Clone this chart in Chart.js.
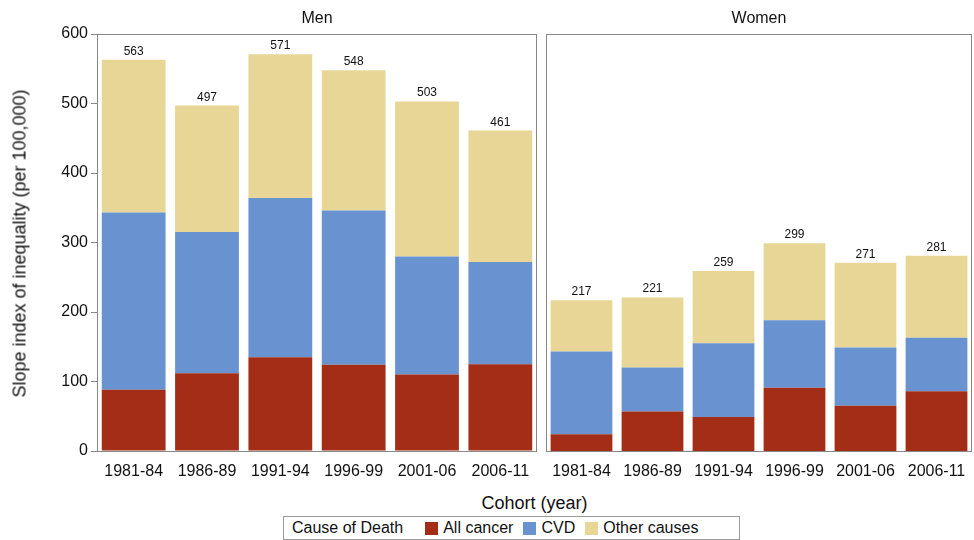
<!DOCTYPE html>
<html><head><meta charset="utf-8">
<script src="https://cdn.jsdelivr.net/npm/chart.js@4"></script>
<style>
body{margin:0;width:974px;height:540px;background:#fff;font-family:"Liberation Sans",Arial,sans-serif;position:relative;overflow:hidden;color:#111}
canvas{position:absolute;top:0}
.t{position:absolute;font-size:16px;text-align:center}
#legend{position:absolute;left:283px;top:516px;width:457px;height:24px;border:1px solid #999;box-sizing:border-box;font-size:16px;display:flex;align-items:center;padding-left:8px;white-space:nowrap}
.sw{display:inline-block;width:13px;height:13px;margin:0 5px 0 10px}
</style></head><body>
<canvas id="men" width="540" height="480" style="left:0;width:540px;height:480px"></canvas>
<canvas id="women" width="434" height="480" style="left:540px;width:434px;height:480px"></canvas>
<div class="t" style="left:97px;width:440px;top:9px">Men</div>
<div class="t" style="left:546px;width:426px;top:9px">Women</div>
<div class="t" style="left:97px;width:875px;top:493px;font-size:18px">Cohort (year)</div>
<div class="t" style="left:-150px;top:233px;width:340px;font-size:18px;transform:rotate(-90deg)">Slope index of inequality (per 100,000)</div>
<div id="legend">Cause of Death <span class="sw" style="background:#a32d17;margin-left:22px"></span>All cancer<span class="sw" style="background:#6993d0"></span>CVD<span class="sw" style="background:#e8d697"></span>Other causes</div>
<script>
var cohorts = ["1981-84","1986-89","1991-94","1996-99","2001-06","2006-11"];
var menCancer = [88,112,135,124,110,125];
var menCvd = [255,203,229,222,170,147];
var menOther = [220,182,207,202,223,189];
var menTotal = [563,497,571,548,503,461];
var womenCancer = [24,57,49,91,65,86];
var womenCvd = [119,63,106,97,84,77];
var womenOther = [74,101,104,111,122,118];
var womenTotal = [217,221,259,299,271,281];

var boxPlugin = {
    id: 'box',
    afterDraw: function (chart) {
        var a = chart.chartArea, c = chart.ctx;
        c.save();
        c.strokeStyle = '#888'; c.lineWidth = 1;
        c.strokeRect(a.left + 0.5, a.top + 0.5, a.right - a.left - 1, a.bottom - a.top);
        var meta = chart.getDatasetMeta(2), totals = chart.options.totals;
        c.fillStyle = '#111'; c.font = '12px "Liberation Sans", Arial'; c.textAlign = 'center';
        meta.data.forEach(function (bar, i) { c.fillText(totals[i], bar.x, bar.y - 5); });
        c.restore();
    }
};

function makeChart(id, cancer, cvd, other, totals, showY, pad) {
    return new Chart(document.getElementById(id), {
        type: 'bar',
        data: {
            labels: cohorts,
            datasets: [
                { label: 'All cancer', data: cancer, backgroundColor: '#a32d17' },
                { label: 'CVD', data: cvd, backgroundColor: '#6993d0' },
                { label: 'Other causes', data: other, backgroundColor: '#e8d697' }
            ]
        },
        options: {
            totals: totals,
            responsive: false, animation: false,
            layout: { padding: pad },
            datasets: { bar: { barPercentage: 1, categoryPercentage: 0.87 } },
            plugins: { legend: { display: false }, tooltip: { enabled: false } },
            scales: {
                x: {
                    stacked: true,
                    grid: { display: false },
                    border: { display: false },
                    ticks: { color: '#111', font: { size: 16 }, maxRotation: 0, autoSkip: false },
                    afterFit: function (s) { s.height = 29; }
                },
                y: {
                    stacked: true, min: 0, max: 600, display: showY,
                    grid: { display: true, drawOnChartArea: false, tickLength: 6, color: '#888' },
                    border: { display: false },
                    ticks: { stepSize: 100, color: '#111', font: { size: 16 } },
                    afterFit: function (s) { s.width = showY ? 97 : 0; }
                }
            }
        },
        plugins: [boxPlugin]
    });
}
makeChart('men', menCancer, menCvd, menOther, menTotal, true, { top: 34, right: 3, left: 0, bottom: 0 });
makeChart('women', womenCancer, womenCvd, womenOther, womenTotal, false, { top: 34, right: 2, left: 6, bottom: 0 });
</script>
</body></html>
